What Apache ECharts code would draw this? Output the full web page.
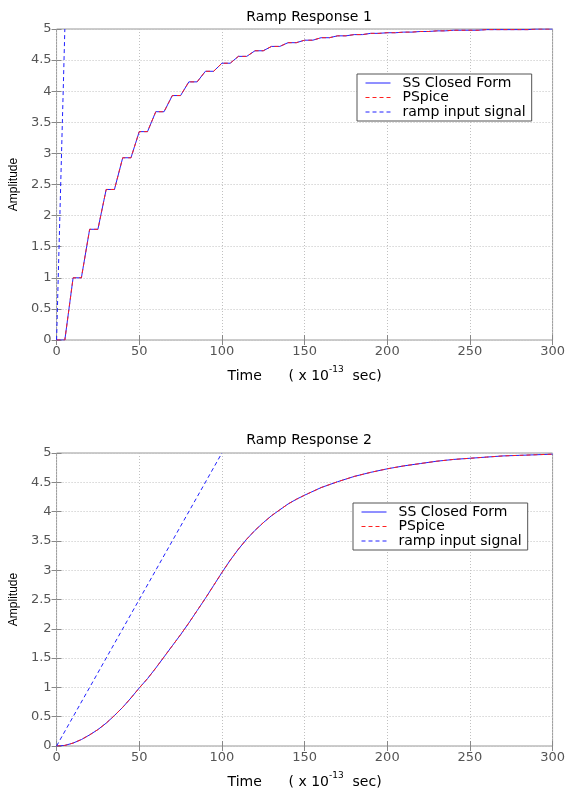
<!DOCTYPE html>
<html><head><meta charset="utf-8">
<script src="https://cdn.jsdelivr.net/npm/echarts@6/dist/echarts.min.js"></script>
<style>html,body{margin:0;padding:0;background:#fff;}#c{width:568px;height:790px;}</style>
</head><body><div id="c"></div>
<script>
// ---- data ----
const titles = ['Ramp Response 1', 'Ramp Response 2'];
const seriesNames = ['SS Closed Form', 'PSpice', 'ramp input signal'];
const xTicks = [0, 50, 100, 150, 200, 250, 300];
const yTicks = [0, 0.5, 1, 1.5, 2, 2.5, 3, 3.5, 4, 4.5, 5];

// Response 1 (staircase)
const t1 = [0,5,10,15,20,25,30,35,40,45,50,55,60,65,70,75,80,85,90,95,100,105,110,115,120,125,130,135,140,145,150,155,160,165,170,175,180,185,190,195,200,205,210,215,220,225,230,235,240,245,250,255,260,265,270,275,280,285,290,295,300];
const v1 = [0,0,1.0,1.0,1.78,1.78,2.42,2.42,2.93,2.93,3.35,3.35,3.67,3.67,3.93,3.93,4.15,4.15,4.32,4.32,4.45,4.45,4.56,4.56,4.65,4.65,4.72,4.72,4.78,4.78,4.82,4.82,4.86,4.86,4.89,4.89,4.91,4.91,4.93,4.93,4.94,4.94,4.95,4.95,4.96,4.96,4.97,4.97,4.98,4.98,4.98,4.98,4.99,4.99,4.99,4.99,4.99,4.99,5.0,5.0,5.0];
const rampT1 = [0, 5];
const rampV1 = [0, 5];

// Response 2 (smooth)
const t2 = [0,5,10,15,20,25,30,35,40,45,50,55,60,65,70,75,80,85,90,95,100,105,110,115,120,125,130,135,140,145,150,160,170,180,190,200,210,220,230,240,250,260,270,280,290,300];
const v2 = [0,0.01,0.05,0.11,0.19,0.28,0.39,0.52,0.66,0.82,0.99,1.15,1.33,1.52,1.71,1.90,2.10,2.31,2.52,2.74,2.96,3.17,3.36,3.53,3.68,3.81,3.93,4.03,4.13,4.21,4.28,4.41,4.51,4.60,4.67,4.73,4.78,4.82,4.86,4.89,4.91,4.93,4.95,4.96,4.97,4.98];
const rampT2 = [0, 100];
const rampV2 = [0, 5];

// ---- build ----
const zip = (a, b) => a.map((x, i) => [x, b[i]]);
const FONT = 'DejaVu Sans';
const grids = [
  {left: 55, top: 29, width: 499, height: 311},
  {left: 55, top: 453, width: 499, height: 298}
];
const chart = echarts.init(document.getElementById('c'), null, {renderer: 'canvas'});

const xAxes = [], yAxes = [], series = [];
grids.forEach((g, i) => {
  xAxes.push({
    gridIndex: i, type: 'value', min: xTicks[0], max: xTicks[xTicks.length-1], interval: 50,
    axisLine: {show: false}, axisTick: {inside: true, length: 5, lineStyle: {color: '#888'}},
    axisLabel: {color: '#555', fontFamily: FONT, fontSize: 13, margin: 5},
    splitLine: {show: true, lineStyle: {color: '#c0c0c0', type: [1, 2]}},
    name: '{a|Time      ( x 10}{s|-13}{a|  sec)}', nameLocation: 'middle', nameGap: 25,
    nameTextStyle: {rich: {
      a: {fontFamily: FONT, fontSize: 14, color: '#000', lineHeight: 18, verticalAlign: 'bottom'},
      s: {fontFamily: FONT, fontSize: 9, color: '#000', lineHeight: 18, verticalAlign: 'top'}
    }}
  });
  xAxes.push({
    gridIndex: i, type: 'value', position: 'top', min: 0, max: 300, interval: 50,
    axisLine: {show: false}, axisTick: {inside: true, length: 5, lineStyle: {color: '#888'}},
    axisLabel: {show: false}, splitLine: {show: false}
  });
  yAxes.push({
    gridIndex: i, type: 'value', min: yTicks[0], max: yTicks[yTicks.length-1], interval: 0.5,
    axisLine: {show: false}, axisTick: {inside: true, length: 5, lineStyle: {color: '#888'}},
    axisLabel: {color: '#555', fontFamily: FONT, fontSize: 13, margin: 5},
    splitLine: {show: true, lineStyle: {color: '#c0c0c0', type: [1, 2]}},
    name: 'Amplitude', nameLocation: 'middle', nameRotate: 90, nameGap: 34,
    nameTextStyle: {fontFamily: 'Liberation Sans', fontSize: 12, color: '#000'}
  });
  yAxes.push({
    gridIndex: i, type: 'value', position: 'right', min: 0, max: 5, interval: 0.5,
    axisLine: {show: false}, axisTick: {inside: true, length: 5, lineStyle: {color: '#888'}},
    axisLabel: {show: false}, splitLine: {show: false}
  });
});

const resp = [zip(t1, v1), zip(t2, v2)];
const ramps = [zip(rampT1, rampV1), zip(rampT2, rampV2)];
[0, 1].forEach(i => {
  const xi = i * 2, yi = i * 2;
  series.push({name: seriesNames[0], type: 'line', xAxisIndex: xi, yAxisIndex: yi, data: resp[i],
    symbol: 'none', lineStyle: {color: '#2020ff', width: 1, type: 'solid'}, itemStyle: {color: '#2020ff'}, silent: true, animation: false});
  series.push({name: seriesNames[1], type: 'line', xAxisIndex: xi, yAxisIndex: yi, data: resp[i],
    symbol: 'none', lineStyle: {color: '#ff2020', width: 1, type: [4, 3]}, itemStyle: {color: '#ff2020'}, silent: true, animation: false});
  series.push({name: seriesNames[2], type: 'line', xAxisIndex: xi, yAxisIndex: yi, data: ramps[i],
    symbol: 'none', lineStyle: {color: '#2020ff', width: 1, type: [4, 3]}, itemStyle: {color: '#2020ff'}, silent: true, animation: false});
});

const legendBase = {
  orient: 'vertical', data: seriesNames, itemWidth: 25, itemHeight: 12,
  backgroundColor: '#fff', borderColor: '#555', borderWidth: 1, selectedMode: false,
  itemStyle: {opacity: 0},
  lineStyle: {width: 1}
};

chart.setOption({
  animation: false,
  backgroundColor: '#fff',
  title: [
    {text: titles[0], left: 304, top: 5, textAlign: 'center', textStyle: {fontFamily: FONT, fontSize: 14, fontWeight: 'normal', color: '#000'}},
    {text: titles[1], left: 304, top: 428, textAlign: 'center', textStyle: {fontFamily: FONT, fontSize: 14, fontWeight: 'normal', color: '#000'}}
  ],
  grid: grids.map(g => Object.assign({show: true, borderColor: '#999', borderWidth: 1, backgroundColor: 'transparent'}, g)),
  xAxis: xAxes,
  yAxis: yAxes,
  legend: [
    Object.assign({}, legendBase, {left: 357, top: 74, itemGap: 0.5, padding: [2, 6, 2, 8],
      textStyle: {fontFamily: FONT, fontSize: 14, color: '#000', lineHeight: 14, padding: [0, 0, 0, 7]}}),
    Object.assign({}, legendBase, {left: 353, top: 503, itemGap: 0.5, padding: [2, 6, 2, 8],
      textStyle: {fontFamily: FONT, fontSize: 14, color: '#000', lineHeight: 13, padding: [0, 0, 0, 7]}})
  ],
  series: series
});
</script></body></html>
